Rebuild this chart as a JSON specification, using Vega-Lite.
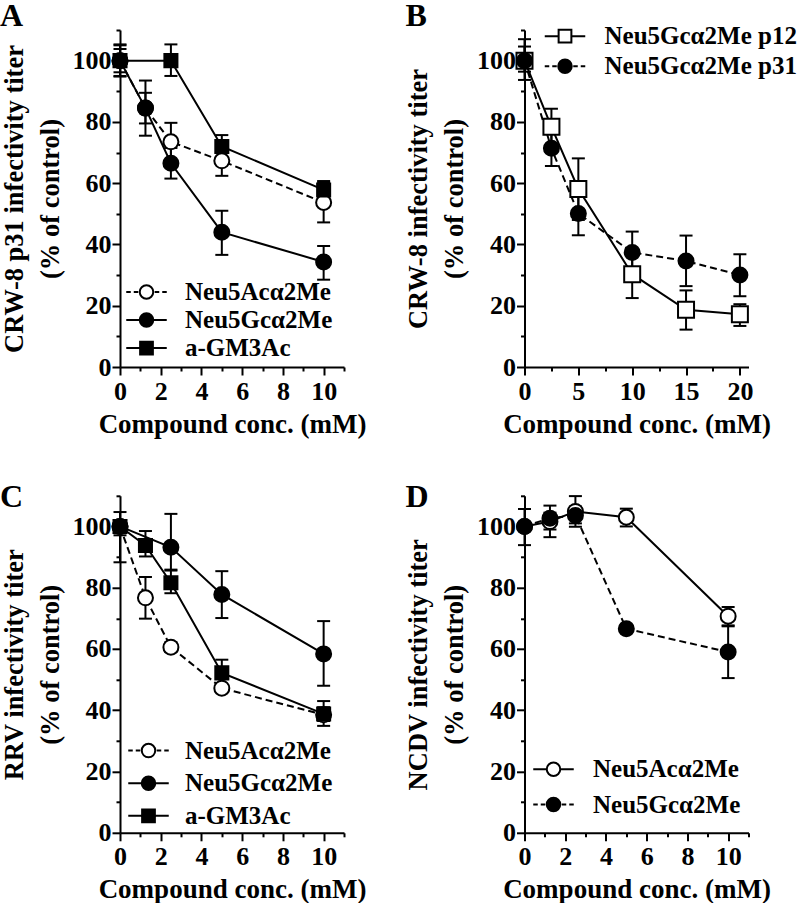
{
  "$schema": "https://vega.github.io/schema/vega-lite/v6.json",
  "background": "white",
  "padding": {"left": 0, "top": 0, "right": 0, "bottom": 0},
  "config": {
    "view": {"stroke": null},
    "font": "Liberation Serif",
    "axis": {"domainColor": "black", "domainWidth": 2, "tickColor": "black", "tickWidth": 2, "labelFont": "Liberation Serif", "labelFontSize": 26, "labelFontWeight": "bold", "labelColor": "black", "titleFont": "Liberation Serif", "titleFontSize": 27, "titleFontWeight": "bold", "titleColor": "black", "grid": false, "labelOverlap": false, "labelFlush": false, "labelBound": false},
    "axisX": {"labelPadding": 3, "titlePadding": 7},
    "axisY": {"labelPadding": 1, "titlePadding": 8, "titleFontSize": 26.5, "titleLineHeight": 36},
    "legend": {"labelFont": "Liberation Serif", "labelFontSize": 25, "labelFontWeight": "bold", "labelColor": "black", "labelLimit": 400, "symbolSize": 225, "symbolStrokeWidth": 2, "symbolStrokeColor": "black", "symbolOpacity": 1, "padding": 0},
    "title": {"anchor": "start", "frame": "group", "font": "Liberation Serif", "fontSize": 32, "fontWeight": "bold", "color": "black", "baseline": "alphabetic"}
  },
  "datasets": {
    "d": [
      {"p": "A", "s": "Neu5Acα2Me", "x": 0, "y": 100, "lo": 95, "hi": 105},
      {"p": "A", "s": "Neu5Acα2Me", "x": 1.25, "y": 84.5, "lo": 79.5, "hi": 89.5},
      {"p": "A", "s": "Neu5Acα2Me", "x": 2.5, "y": 73.5, "lo": 67.5, "hi": 79.7},
      {"p": "A", "s": "Neu5Acα2Me", "x": 5, "y": 67.3, "lo": 62.4, "hi": 72.2},
      {"p": "A", "s": "Neu5Acα2Me", "x": 10, "y": 53.7, "lo": 47.2, "hi": 60.2},
      {"p": "A", "s": "Neu5Gcα2Me", "x": 0, "y": 100, "lo": 96.2, "hi": 103.8},
      {"p": "A", "s": "Neu5Gcα2Me", "x": 1.25, "y": 84.5, "lo": 75.5, "hi": 93.5},
      {"p": "A", "s": "Neu5Gcα2Me", "x": 2.5, "y": 66.5, "lo": 61.5, "hi": 71.5},
      {"p": "A", "s": "Neu5Gcα2Me", "x": 5, "y": 44, "lo": 36.6, "hi": 51},
      {"p": "A", "s": "Neu5Gcα2Me", "x": 10, "y": 34.3, "lo": 28.5, "hi": 39.5},
      {"p": "A", "s": "a-GM3Ac", "x": 0, "y": 100, "lo": 94.8, "hi": 105.3},
      {"p": "A", "s": "a-GM3Ac", "x": 2.5, "y": 100, "lo": 95, "hi": 105.3},
      {"p": "A", "s": "a-GM3Ac", "x": 5, "y": 72, "lo": 68.3, "hi": 75.7},
      {"p": "A", "s": "a-GM3Ac", "x": 10, "y": 57.8, "lo": 55, "hi": 60.7},
      {"p": "B", "s": "Neu5Gcα2Me p12", "x": 0, "y": 100, "lo": 93.7, "hi": 107},
      {"p": "B", "s": "Neu5Gcα2Me p12", "x": 2.5, "y": 78.4, "lo": 72.4, "hi": 84.3},
      {"p": "B", "s": "Neu5Gcα2Me p12", "x": 5, "y": 58.1, "lo": 48, "hi": 68.1},
      {"p": "B", "s": "Neu5Gcα2Me p12", "x": 10, "y": 30.3, "lo": 22.5, "hi": 38},
      {"p": "B", "s": "Neu5Gcα2Me p12", "x": 15, "y": 18.7, "lo": 12.2, "hi": 25},
      {"p": "B", "s": "Neu5Gcα2Me p12", "x": 20, "y": 17.2, "lo": 13.4, "hi": 20.5},
      {"p": "B", "s": "Neu5Gcα2Me p31", "x": 0, "y": 100, "lo": 96.4, "hi": 104.6},
      {"p": "B", "s": "Neu5Gcα2Me p31", "x": 2.5, "y": 71.4, "lo": 65.6, "hi": 77.6},
      {"p": "B", "s": "Neu5Gcα2Me p31", "x": 5, "y": 50.1, "lo": 43, "hi": 57},
      {"p": "B", "s": "Neu5Gcα2Me p31", "x": 10, "y": 37.4, "lo": 30.5, "hi": 44.2},
      {"p": "B", "s": "Neu5Gcα2Me p31", "x": 15, "y": 34.6, "lo": 26.4, "hi": 42.9},
      {"p": "B", "s": "Neu5Gcα2Me p31", "x": 20, "y": 30, "lo": 23.1, "hi": 36.8},
      {"p": "C", "s": "Neu5Acα2Me", "x": 0, "y": 100, "lo": 88.3, "hi": 104.7},
      {"p": "C", "s": "Neu5Acα2Me", "x": 1.25, "y": 76.7, "lo": 69.9, "hi": 83.5},
      {"p": "C", "s": "Neu5Acα2Me", "x": 2.5, "y": 60.6, "lo": 59, "hi": 62.2},
      {"p": "C", "s": "Neu5Acα2Me", "x": 5, "y": 47.2, "lo": null, "hi": null},
      {"p": "C", "s": "Neu5Acα2Me", "x": 10, "y": 38.5, "lo": 34.9, "hi": 43},
      {"p": "C", "s": "Neu5Gcα2Me", "x": 0, "y": 100, "lo": 97.1, "hi": 102},
      {"p": "C", "s": "Neu5Gcα2Me", "x": 2.5, "y": 93.2, "lo": 85.6, "hi": 104.1},
      {"p": "C", "s": "Neu5Gcα2Me", "x": 5, "y": 77.8, "lo": 70.1, "hi": 85.4},
      {"p": "C", "s": "Neu5Gcα2Me", "x": 10, "y": 58.4, "lo": 48, "hi": 69.1},
      {"p": "C", "s": "a-GM3Ac", "x": 0, "y": 100, "lo": null, "hi": null},
      {"p": "C", "s": "a-GM3Ac", "x": 1.25, "y": 93.8, "lo": 90.2, "hi": 98.5},
      {"p": "C", "s": "a-GM3Ac", "x": 2.5, "y": 81.6, "lo": 78.2, "hi": 85.9},
      {"p": "C", "s": "a-GM3Ac", "x": 5, "y": 52.2, "lo": 48, "hi": 56.5},
      {"p": "C", "s": "a-GM3Ac", "x": 10, "y": 38.8, "lo": 36.5, "hi": 41},
      {"p": "D", "s": "Neu5Acα2Me", "x": 0, "y": 100, "lo": 93.9, "hi": 105.7},
      {"p": "D", "s": "Neu5Acα2Me", "x": 1.25, "y": 101.6, "lo": 96.5, "hi": 106.8},
      {"p": "D", "s": "Neu5Acα2Me", "x": 2.5, "y": 104.9, "lo": 99.9, "hi": 109.9},
      {"p": "D", "s": "Neu5Acα2Me", "x": 5, "y": 103, "lo": 100, "hi": 105.8},
      {"p": "D", "s": "Neu5Acα2Me", "x": 10, "y": 70.7, "lo": 67.7, "hi": 73.7},
      {"p": "D", "s": "Neu5Gcα2Me", "x": 0, "y": 100, "lo": null, "hi": null},
      {"p": "D", "s": "Neu5Gcα2Me", "x": 1.25, "y": 102.7, "lo": 99, "hi": 104.5},
      {"p": "D", "s": "Neu5Gcα2Me", "x": 2.5, "y": 103.6, "lo": 101, "hi": 106.5},
      {"p": "D", "s": "Neu5Gcα2Me", "x": 5, "y": 66.6, "lo": null, "hi": null},
      {"p": "D", "s": "Neu5Gcα2Me", "x": 10, "y": 59, "lo": 50.5, "hi": 67.4}
    ]
  },
  "data": {"name": "d"},
  "columns": 2,
  "spacing": {"row": 128.8, "column": 180.5},
  "bounds": "flush",
  "resolve": {"scale": {"shape": "independent", "fill": "independent"}, "legend": {"shape": "independent", "fill": "independent"}},
  "concat": [
    {
      "width": 224, "height": 337,
      "title": {"text": "A", "dx": -120, "offset": -16},
      "transform": [{"filter": "datum.p === 'A'"}],
      "encoding": {
        "x": {"field": "x", "type": "quantitative", "scale": {"domain": [0, 11], "nice": false}, "axis": {"title": "Compound conc. (mM)", "values": [0, 1, 2, 3, 4, 5, 6, 7, 8, 9, 10, 11], "labelExpr": "datum.value % 2 === 0 ? datum.label : ''", "tickSize": {"condition": {"test": "datum.value % 2 === 1", "value": 4}, "value": 8}}},
        "y": {"field": "y", "type": "quantitative", "scale": {"domain": [0, 110], "nice": false}, "axis": {"title": ["CRW-8 p31 infectivity titer", "(% of control)"], "values": [0, 10, 20, 30, 40, 50, 60, 70, 80, 90, 100, 110], "labelExpr": "datum.value % 20 === 0 ? datum.label : ''", "tickSize": {"condition": {"test": "datum.value % 20 === 10", "value": 4}, "value": 8}}}
      },
      "layer": [
        {"transform": [{"filter": "datum.s !== 'Neu5Acα2Me'"}], "mark": {"type": "line", "color": "black", "strokeWidth": 2}, "encoding": {"detail": {"field": "s"}}},
        {"transform": [{"filter": "datum.s === 'Neu5Acα2Me'"}], "mark": {"type": "line", "color": "black", "strokeWidth": 2, "strokeDash": [7, 4]}},
        {"transform": [{"filter": "isValid(datum.lo)"}], "mark": {"type": "errorbar", "ticks": {"size": 13, "thickness": 2, "color": "black", "opacity": 1}, "rule": {"strokeWidth": 2, "color": "black", "opacity": 1}, "color": "black"}, "encoding": {"y": {"field": "lo", "type": "quantitative", "scale": {"domain": [0, 110], "nice": false}}, "y2": {"field": "hi"}}},
        {"transform": [{"filter": "datum.s === 'Neu5Acα2Me'"}], "mark": {"type": "point", "shape": "circle", "filled": true, "fill": "white", "stroke": "black", "strokeWidth": 2, "size": 225, "opacity": 1}},
        {"transform": [{"filter": "datum.s === 'Neu5Gcα2Me'"}], "mark": {"type": "point", "shape": "circle", "filled": true, "fill": "black", "stroke": "black", "strokeWidth": 2, "size": 225, "opacity": 1}},
        {"transform": [{"filter": "datum.s === 'a-GM3Ac'"}], "mark": {"type": "point", "shape": "square", "filled": true, "fill": "black", "stroke": "black", "strokeWidth": 2, "size": 170, "opacity": 1}},
        {"transform": [{"filter": "false"}], "mark": {"type": "point", "filled": true, "size": 225, "stroke": "black", "strokeWidth": 2},
         "encoding": {
           "shape": {"field": "s", "type": "nominal", "scale": {"domain": ["Neu5Acα2Me", "Neu5Gcα2Me", "a-GM3Ac"], "range": ["M-2.7,0H-2.1M-1.7,0H-1.1M1.1,0H1.7M2.1,0H2.7M-0.9,0A0.9,0.9,0,1,1,0.9,0A0.9,0.9,0,1,1,-0.9,0Z", "M-2.7,0H-0.9M0.9,0H2.7M-0.9,0A0.9,0.9,0,1,1,0.9,0A0.9,0.9,0,1,1,-0.9,0Z", "M-2.7,0H-0.85M0.85,0H2.7M-0.85,-0.85H0.85V0.85H-0.85Z"]}, "legend": {"title": null, "orient": "none", "legendX": 14, "legendY": 249.5, "rowPadding": 2, "labelOffset": 26, "encode": {"symbols": {"update": {"stroke": {"value": "black"}, "strokeWidth": {"value": 2}}}}}},
           "fill": {"field": "s", "type": "nominal", "scale": {"domain": ["Neu5Acα2Me", "Neu5Gcα2Me", "a-GM3Ac"], "range": ["white", "black", "black"]}, "legend": {"title": null, "orient": "none", "legendX": 14, "legendY": 249.5, "rowPadding": 2, "labelOffset": 26, "encode": {"symbols": {"update": {"stroke": {"value": "black"}, "strokeWidth": {"value": 2}}}}}}
         }}
      ]
    },
    {
      "width": 224, "height": 337,
      "title": {"text": "B", "dx": -119, "offset": -16},
      "transform": [{"filter": "datum.p === 'B'"}],
      "encoding": {
        "x": {"field": "x", "type": "quantitative", "scale": {"domain": [0, 20.8], "nice": false}, "axis": {"title": "Compound conc. (mM)", "values": [0, 2.5, 5, 7.5, 10, 12.5, 15, 17.5, 20], "labelExpr": "datum.value % 5 === 0 ? datum.label : ''", "tickSize": {"condition": {"test": "datum.value % 5 !== 0", "value": 4}, "value": 8}}},
        "y": {"field": "y", "type": "quantitative", "scale": {"domain": [0, 110], "nice": false}, "axis": {"title": ["CRW-8 infectivity titer", "(% of control)"], "values": [0, 10, 20, 30, 40, 50, 60, 70, 80, 90, 100, 110], "labelExpr": "datum.value % 20 === 0 ? datum.label : ''", "tickSize": {"condition": {"test": "datum.value % 20 === 10", "value": 4}, "value": 8}}}
      },
      "layer": [
        {"transform": [{"filter": "datum.s === 'Neu5Gcα2Me p12'"}], "mark": {"type": "line", "color": "black", "strokeWidth": 2}},
        {"transform": [{"filter": "datum.s === 'Neu5Gcα2Me p31'"}], "mark": {"type": "line", "color": "black", "strokeWidth": 2, "strokeDash": [7, 4]}},
        {"transform": [{"filter": "isValid(datum.lo)"}], "mark": {"type": "errorbar", "ticks": {"size": 13, "thickness": 2, "color": "black", "opacity": 1}, "rule": {"strokeWidth": 2, "color": "black", "opacity": 1}, "color": "black"}, "encoding": {"y": {"field": "lo", "type": "quantitative", "scale": {"domain": [0, 110], "nice": false}}, "y2": {"field": "hi"}}},
        {"transform": [{"filter": "datum.s === 'Neu5Gcα2Me p12'"}], "mark": {"type": "point", "shape": "square", "filled": true, "fill": "white", "stroke": "black", "strokeWidth": 2, "size": 256, "opacity": 1}},
        {"transform": [{"filter": "datum.s === 'Neu5Gcα2Me p31'"}], "mark": {"type": "point", "shape": "circle", "filled": true, "fill": "black", "stroke": "black", "strokeWidth": 2, "size": 225, "opacity": 1}},
        {"transform": [{"filter": "false"}], "mark": {"type": "point", "filled": true, "size": 225, "stroke": "black", "strokeWidth": 2},
         "encoding": {
           "shape": {"field": "s", "type": "nominal", "scale": {"domain": ["Neu5Gcα2Me p12", "Neu5Gcα2Me p31"], "range": ["M-2.7,0H-0.85M0.85,0H2.7M-0.85,-0.85H0.85V0.85H-0.85Z", "M-2.7,0H-2.1M-1.7,0H-1.1M1.1,0H1.7M2.1,0H2.7M-0.9,0A0.9,0.9,0,1,1,0.9,0A0.9,0.9,0,1,1,-0.9,0Z"]}, "legend": {"title": null, "orient": "none", "legendX": 28, "legendY": -6.3, "rowPadding": 4, "labelOffset": 27, "encode": {"symbols": {"update": {"stroke": {"value": "black"}, "strokeWidth": {"value": 2}}}}}},
           "fill": {"field": "s", "type": "nominal", "scale": {"domain": ["Neu5Gcα2Me p12", "Neu5Gcα2Me p31"], "range": ["white", "black"]}, "legend": {"title": null, "orient": "none", "legendX": 28, "legendY": -6.3, "rowPadding": 4, "labelOffset": 27, "encode": {"symbols": {"update": {"stroke": {"value": "black"}, "strokeWidth": {"value": 2}}}}}}
         }}
      ]
    },
    {
      "width": 224, "height": 337,
      "title": {"text": "C", "dx": -120, "offset": -31},
      "transform": [{"filter": "datum.p === 'C'"}],
      "encoding": {
        "x": {"field": "x", "type": "quantitative", "scale": {"domain": [0, 11], "nice": false}, "axis": {"title": "Compound conc. (mM)", "values": [0, 1, 2, 3, 4, 5, 6, 7, 8, 9, 10, 11], "labelExpr": "datum.value % 2 === 0 ? datum.label : ''", "tickSize": {"condition": {"test": "datum.value % 2 === 1", "value": 4}, "value": 8}}},
        "y": {"field": "y", "type": "quantitative", "scale": {"domain": [0, 110], "nice": false}, "axis": {"title": ["RRV infectivity titer", "(% of control)"], "values": [0, 10, 20, 30, 40, 50, 60, 70, 80, 90, 100, 110], "labelExpr": "datum.value % 20 === 0 ? datum.label : ''", "tickSize": {"condition": {"test": "datum.value % 20 === 10", "value": 4}, "value": 8}}}
      },
      "layer": [
        {"transform": [{"filter": "datum.s !== 'Neu5Acα2Me'"}], "mark": {"type": "line", "color": "black", "strokeWidth": 2}, "encoding": {"detail": {"field": "s"}}},
        {"transform": [{"filter": "datum.s === 'Neu5Acα2Me'"}], "mark": {"type": "line", "color": "black", "strokeWidth": 2, "strokeDash": [7, 4]}},
        {"transform": [{"filter": "isValid(datum.lo)"}], "mark": {"type": "errorbar", "ticks": {"size": 13, "thickness": 2, "color": "black", "opacity": 1}, "rule": {"strokeWidth": 2, "color": "black", "opacity": 1}, "color": "black"}, "encoding": {"y": {"field": "lo", "type": "quantitative", "scale": {"domain": [0, 110], "nice": false}}, "y2": {"field": "hi"}}},
        {"transform": [{"filter": "datum.s === 'Neu5Acα2Me'"}], "mark": {"type": "point", "shape": "circle", "filled": true, "fill": "white", "stroke": "black", "strokeWidth": 2, "size": 225, "opacity": 1}},
        {"transform": [{"filter": "datum.s === 'Neu5Gcα2Me'"}], "mark": {"type": "point", "shape": "circle", "filled": true, "fill": "black", "stroke": "black", "strokeWidth": 2, "size": 225, "opacity": 1}},
        {"transform": [{"filter": "datum.s === 'a-GM3Ac'"}], "mark": {"type": "point", "shape": "square", "filled": true, "fill": "black", "stroke": "black", "strokeWidth": 2, "size": 170, "opacity": 1}},
        {"transform": [{"filter": "false"}], "mark": {"type": "point", "filled": true, "size": 225, "stroke": "black", "strokeWidth": 2},
         "encoding": {
           "shape": {"field": "s", "type": "nominal", "scale": {"domain": ["Neu5Acα2Me", "Neu5Gcα2Me", "a-GM3Ac"], "range": ["M-2.7,0H-2.1M-1.7,0H-1.1M1.1,0H1.7M2.1,0H2.7M-0.9,0A0.9,0.9,0,1,1,0.9,0A0.9,0.9,0,1,1,-0.9,0Z", "M-2.7,0H-0.9M0.9,0H2.7M-0.9,0A0.9,0.9,0,1,1,0.9,0A0.9,0.9,0,1,1,-0.9,0Z", "M-2.7,0H-0.85M0.85,0H2.7M-0.85,-0.85H0.85V0.85H-0.85Z"]}, "legend": {"title": null, "orient": "none", "legendX": 16, "legendY": 242.3, "rowPadding": 6.6, "labelOffset": 24, "encode": {"symbols": {"update": {"stroke": {"value": "black"}, "strokeWidth": {"value": 2}}}}}},
           "fill": {"field": "s", "type": "nominal", "scale": {"domain": ["Neu5Acα2Me", "Neu5Gcα2Me", "a-GM3Ac"], "range": ["white", "black", "black"]}, "legend": {"title": null, "orient": "none", "legendX": 16, "legendY": 242.3, "rowPadding": 6.6, "labelOffset": 24, "encode": {"symbols": {"update": {"stroke": {"value": "black"}, "strokeWidth": {"value": 2}}}}}}
         }}
      ]
    },
    {
      "width": 224, "height": 337,
      "title": {"text": "D", "dx": -119, "offset": -31},
      "transform": [{"filter": "datum.p === 'D'"}],
      "encoding": {
        "x": {"field": "x", "type": "quantitative", "scale": {"domain": [0, 11], "nice": false}, "axis": {"title": "Compound conc. (mM)", "values": [0, 1, 2, 3, 4, 5, 6, 7, 8, 9, 10, 11], "labelExpr": "datum.value % 2 === 0 ? datum.label : ''", "tickSize": {"condition": {"test": "datum.value % 2 === 1", "value": 4}, "value": 8}}},
        "y": {"field": "y", "type": "quantitative", "scale": {"domain": [0, 110], "nice": false}, "axis": {"title": ["NCDV  infectivity titer", "(% of control)"], "values": [0, 10, 20, 30, 40, 50, 60, 70, 80, 90, 100, 110], "labelExpr": "datum.value % 20 === 0 ? datum.label : ''", "tickSize": {"condition": {"test": "datum.value % 20 === 10", "value": 4}, "value": 8}}}
      },
      "layer": [
        {"transform": [{"filter": "datum.s === 'Neu5Acα2Me'"}], "mark": {"type": "line", "color": "black", "strokeWidth": 2}},
        {"transform": [{"filter": "datum.s === 'Neu5Gcα2Me'"}], "mark": {"type": "line", "color": "black", "strokeWidth": 2, "strokeDash": [7, 4]}},
        {"transform": [{"filter": "isValid(datum.lo)"}], "mark": {"type": "errorbar", "ticks": {"size": 13, "thickness": 2, "color": "black", "opacity": 1}, "rule": {"strokeWidth": 2, "color": "black", "opacity": 1}, "color": "black"}, "encoding": {"y": {"field": "lo", "type": "quantitative", "scale": {"domain": [0, 110], "nice": false}}, "y2": {"field": "hi"}}},
        {"transform": [{"filter": "datum.s === 'Neu5Acα2Me'"}], "mark": {"type": "point", "shape": "circle", "filled": true, "fill": "white", "stroke": "black", "strokeWidth": 2, "size": 225, "opacity": 1}},
        {"transform": [{"filter": "datum.s === 'Neu5Gcα2Me'"}], "mark": {"type": "point", "shape": "circle", "filled": true, "fill": "black", "stroke": "black", "strokeWidth": 2, "size": 225, "opacity": 1}},
        {"transform": [{"filter": "false"}], "mark": {"type": "point", "filled": true, "size": 225, "stroke": "black", "strokeWidth": 2},
         "encoding": {
           "shape": {"field": "s", "type": "nominal", "scale": {"domain": ["Neu5Acα2Me", "Neu5Gcα2Me"], "range": ["M-2.7,0H-0.9M0.9,0H2.7M-0.9,0A0.9,0.9,0,1,1,0.9,0A0.9,0.9,0,1,1,-0.9,0Z", "M-2.7,0H-2.1M-1.7,0H-1.1M1.1,0H1.7M2.1,0H2.7M-0.9,0A0.9,0.9,0,1,1,0.9,0A0.9,0.9,0,1,1,-0.9,0Z"]}, "legend": {"title": null, "orient": "none", "legendX": 16.5, "legendY": 261, "rowPadding": 9.3, "labelOffset": 27, "encode": {"symbols": {"update": {"stroke": {"value": "black"}, "strokeWidth": {"value": 2}}}}}},
           "fill": {"field": "s", "type": "nominal", "scale": {"domain": ["Neu5Acα2Me", "Neu5Gcα2Me"], "range": ["white", "black"]}, "legend": {"title": null, "orient": "none", "legendX": 16.5, "legendY": 261, "rowPadding": 9.3, "labelOffset": 27, "encode": {"symbols": {"update": {"stroke": {"value": "black"}, "strokeWidth": {"value": 2}}}}}}
         }}
      ]
    }
  ]
}
